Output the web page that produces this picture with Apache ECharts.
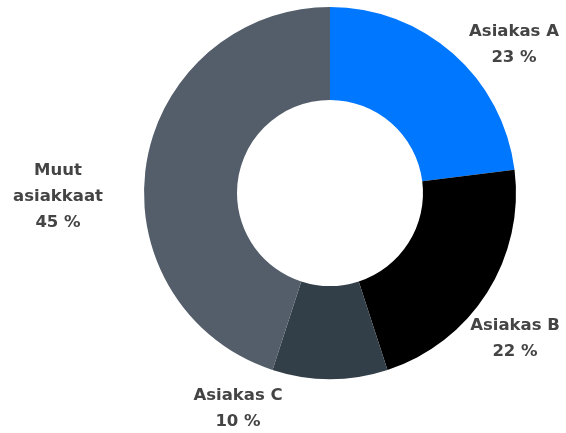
<!DOCTYPE html>
<html>
<head>
<meta charset="utf-8">
<script src="https://cdn.jsdelivr.net/npm/echarts@6/dist/echarts.min.js"></script>
<style>
html, body { margin: 0; padding: 0; background: #fff; }
#chart { width: 566px; height: 433px; }
</style>
</head>
<body>
<div id="chart"></div>
<script>
// asiakasjakauma
var names = ['Asiakas A', 'Asiakas B', 'Asiakas C', 'Muut\nasiakkaat'];
var values = [23, 22, 10, 45];
var colors = ['#0077ff', '#000000', '#333f48', '#545e6b'];

// tekstien paikat (keskipiste)
var labelPos = [[514, 45], [515, 339], [238, 409], [58, 197]];

var myChart = echarts.init(document.getElementById('chart'));

var data = [];
for (var i = 0; i < names.length; i++) {
    data.push({ name: names[i], value: values[i] });
}

var option = {
    animation: false,
    color: colors,
    series: [
        {
            type: 'pie',
            center: [330, 193],
            radius: [93, 186],
            startAngle: 90,
            clockwise: true,
            label: {
                show: true,
                position: 'outside',
                formatter: '{b}\n{c} %',
                color: '#444',
                fontFamily: 'DejaVu Sans',
                fontWeight: 'bold',
                fontSize: 16.5,
                lineHeight: 26,
                align: 'center',
                overflow: 'none'
            },
            labelLine: {
                show: false
            },
            labelLayout: function (params) {
                var p = labelPos[params.dataIndex];
                return {
                    x: p[0],
                    y: p[1],
                    align: 'center',
                    verticalAlign: 'middle',
                    hideOverlap: false
                };
            },
            data: data
        }
    ]
};

myChart.setOption(option);
</script>
</body>
</html>
